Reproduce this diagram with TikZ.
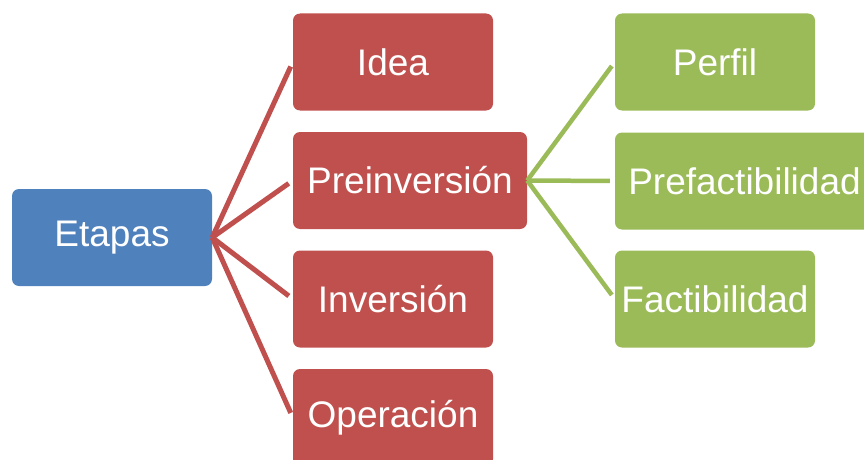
\documentclass[tikz,border=0pt]{standalone}
\usepackage{fontspec}
\setmainfont{Liberation Sans}
\definecolor{etapablue}{RGB}{79, 129, 189}
\definecolor{fasered}{RGB}{192, 80, 77}
\definecolor{subgreen}{RGB}{155, 187, 89}
\usetikzlibrary{positioning}

\begin{document}
\begin{tikzpicture}[x=1pt, y=-1pt,
  box/.style={rounded corners=7pt, text=white, minimum width=200pt, minimum height=97pt,
    inner xsep=2pt, font=\fontsize{37}{44}\selectfont},
  etapabox/.style={box, fill=etapablue},
  fasebox/.style={box, fill=fasered},
  subbox/.style={box, fill=subgreen},
  faselink/.style={draw=fasered, line width=5pt, shorten >=5pt},
  sublink/.style={draw=subgreen, line width=4.5pt, shorten >=5pt}]
  \clip (0,0) rectangle (864,460);

  % raiz
  \node[etapabox] (etapas) at (112,237.5) {Etapas};

  % fases
  \node[fasebox] (idea) at (393,62) {Idea};
  \node[fasebox, minimum width=234pt] (preinv) at (410,180.5) {Preinversión};
  \node[fasebox] (inv) at (393,299) {Inversión};
  \node[fasebox] (oper) at (393,417.5) {Operación};

  % estudios de preinversion
  \node[subbox] (perfil) at (715,62) {Perfil};
  \node[subbox, minimum width=259pt] (prefact) at (744.5,181) {Prefactibilidad};
  \node[subbox] (fact) at (715,299) {Factibilidad};

  \foreach \n in {idea, preinv, inv, oper}
    \draw[faselink] (etapas.east) -- (\n.west);
  \foreach \n in {perfil, prefact, fact}
    \draw[sublink] (preinv.east) -- (\n.west);
\end{tikzpicture}
\end{document}
